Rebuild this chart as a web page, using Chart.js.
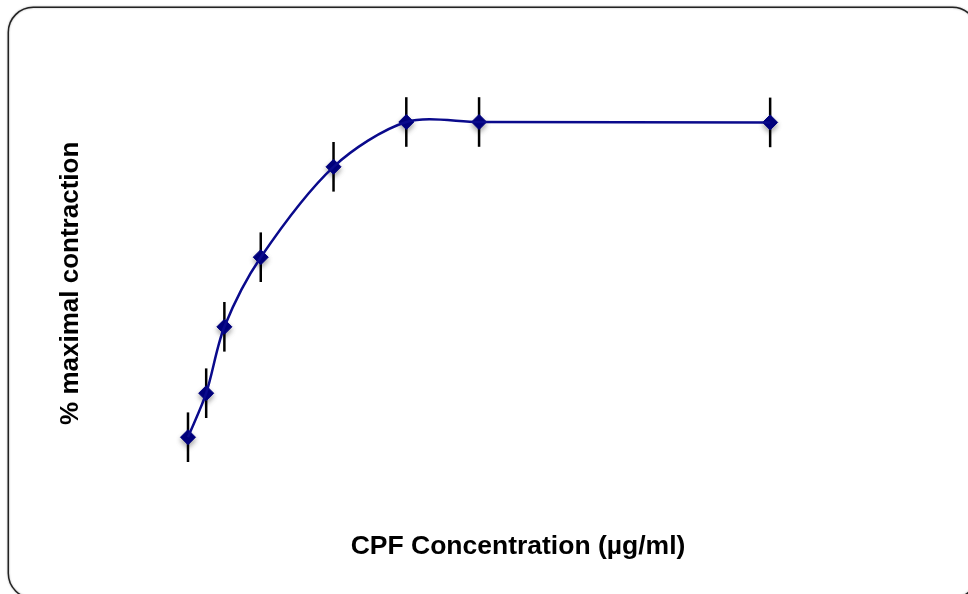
<!DOCTYPE html>
<html>
<head>
<meta charset="utf-8">
<title>CPF Concentration</title>
<script src="https://cdn.jsdelivr.net/npm/chart.js@4.4.0/dist/chart.umd.min.js"></script>
<style>
    body { margin: 0; background: #ffffff; }
    #chart { display: block; }
</style>
</head>
<body>
<canvas id="chart" width="968" height="594"></canvas>
<script>
const concentrations = [1, 2, 3, 5, 9, 13, 17, 33];
const contraction = [21.2, 32.2, 48.8, 66.2, 88.8, 100, 100, 99.9];
const errors = [6.2, 6.2, 6.2, 6.2, 6.2, 6.2, 6.2, 6.2];

const xTitle = "CPF Concentration (µg/ml)";
const yTitle = "% maximal contraction";

const points = concentrations.map((c, i) => ({ x: c, y: contraction[i] }));

// rounded frame behind the chart
const framePlugin = {
    id: "frame",
    beforeDraw(chart) {
        const ctx = chart.ctx;
        ctx.save();
        ctx.fillStyle = "#ffffff";
        ctx.fillRect(0, 0, chart.width, chart.height);
        ctx.shadowColor = "rgba(0, 0, 0, 0.35)";
        ctx.shadowBlur = 2;
        ctx.strokeStyle = "#222222";
        ctx.lineWidth = 1.5;
        ctx.beginPath();
        ctx.roundRect(8.3, 7.3, 969, 591, 25);
        ctx.stroke();
        ctx.restore();
    }
};

// vertical error bars under the markers, shadow on the markers
const errorBarPlugin = {
    id: "errorBars",
    beforeDatasetDraw(chart, args) {
        if (args.index !== 1) return;
        const ctx = chart.ctx;
        const xScale = chart.scales.x;
        const yScale = chart.scales.y;
        ctx.save();
        ctx.strokeStyle = "#000000";
        ctx.lineWidth = 2.5;
        concentrations.forEach((c, i) => {
            const px = xScale.getPixelForValue(c);
            ctx.beginPath();
            ctx.moveTo(px, yScale.getPixelForValue(contraction[i] + errors[i]));
            ctx.lineTo(px, yScale.getPixelForValue(contraction[i] - errors[i]));
            ctx.stroke();
        });
        ctx.restore();

        ctx.save();
        ctx.shadowColor = "rgba(0, 0, 0, 0.35)";
        ctx.shadowBlur = 5;
        ctx.shadowOffsetY = 3;
    },
    afterDatasetDraw(chart, args) {
        if (args.index !== 1) return;
        chart.ctx.restore();
    }
};

new Chart(document.getElementById("chart"), {
    type: "line",
    data: {
        datasets: [{
            data: points,
            borderColor: "#0a0a8c",
            borderWidth: 2.5,
            tension: 0.3,
            pointRadius: 0,
            fill: false
        }, {
            data: points,
            showLine: false,
            pointStyle: "rectRot",
            pointRadius: 7.5,
            pointBackgroundColor: "#000080",
            pointBorderColor: "#000080",
            pointBorderWidth: 1
        }]
    },
    options: {
        responsive: false,
        animation: false,
        layout: {
            padding: { left: 0, right: 101.8, top: 102, bottom: 0 }
        },
        plugins: {
            legend: { display: false },
            tooltip: { enabled: false }
        },
        scales: {
            x: {
                type: "linear",
                min: 0,
                max: 38.28,
                grid: { display: false, drawTicks: false },
                border: { display: false },
                ticks: { display: false },
                title: {
                    display: true,
                    text: xTitle,
                    color: "#000000",
                    font: { family: "'Liberation Sans', Arial, sans-serif", size: 26.5, weight: "bold", lineHeight: 1.2 },
                    padding: { top: 66.5, bottom: 31.1 }
                }
            },
            y: {
                min: 14.35,
                max: 105,
                grid: { display: false, drawTicks: false },
                border: { display: false },
                ticks: { display: false },
                title: {
                    display: true,
                    text: yTitle,
                    color: "#000000",
                    font: { family: "'Liberation Sans', Arial, sans-serif", size: 26, weight: "bold", lineHeight: 1.2 },
                    padding: { top: 55.4, bottom: 83.2 }
                }
            }
        }
    },
    plugins: [framePlugin, errorBarPlugin]
});
</script>
</body>
</html>
